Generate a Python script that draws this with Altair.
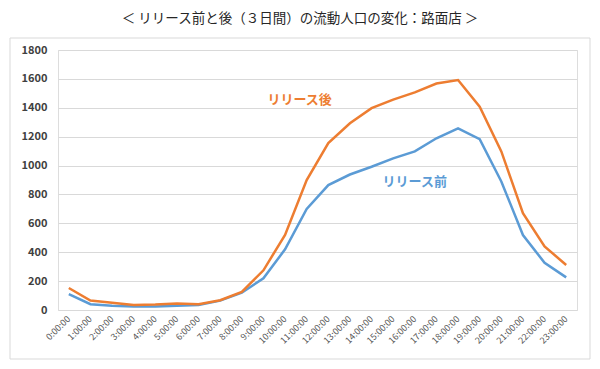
import altair as alt
import pandas as pd

hours = [f"{h}:00:00" for h in range(24)]
before = [110, 40, 30, 25, 25, 30, 35, 65, 120, 220, 420, 700, 865, 938, 992, 1050, 1098, 1189, 1257, 1183, 890, 519, 327, 226]
after = [152, 65, 50, 35, 38, 45, 40, 68, 125, 275, 520, 900, 1156, 1293, 1397, 1456, 1507, 1568, 1592, 1408, 1098, 670, 440, 312]
series_names = ["リリース前", "リリース後"]
colors = ["#5B9BD5", "#ED7D31"]
y_ticks = [0, 200, 400, 600, 800, 1000, 1200, 1400, 1600, 1800]

rows = []
for h, b, a in zip(hours, before, after):
    rows.append({"time": h, "value": b, "series": series_names[0]})
    rows.append({"time": h, "value": a, "series": series_names[1]})
df = pd.DataFrame(rows)

label_df = pd.DataFrame({
    "time": ["9:00:00", "14:00:00"],
    "value": [1454, 885],
    "series": ["リリース後", "リリース前"],
    "dx": [4, 11],
})

FONT = "Noto Sans CJK JP"

x_enc = alt.X("time:N", sort=hours, title=None,
              scale=alt.Scale(paddingInner=1, paddingOuter=0.5),
              axis=alt.Axis(labelAngle=-45, labelFontSize=9, labelColor="#595959",
                            labelFont=FONT, domain=False, ticks=False, grid=False,
                            labelAlign="right", labelBaseline="middle",
                            labelPadding=7, labelOverlap=False))
y_enc = alt.Y("value:Q", title=None,
              scale=alt.Scale(domain=[0, 1800]),
              axis=alt.Axis(values=y_ticks, format="d",
                            labelFontSize=11, labelOverlap=False,
                            labelFontWeight="bold", labelColor="#404040", labelFont=FONT,
                            domain=False, ticks=False, gridColor="#d9d9d9", labelPadding=11))
color_enc = alt.Color("series:N", scale=alt.Scale(domain=series_names, range=colors), legend=None)

frame = alt.Chart(pd.DataFrame({"a": [0]})).mark_rect(
    fill=None, stroke="#d9d9d9", strokeWidth=1
).encode(x=alt.value(-48), x2=alt.value(532), y=alt.value(-12), y2=alt.value(309))

title = alt.Chart(pd.DataFrame({"t": ["＜ リリース前と後（３日間）の流動人口の変化：路面店 ＞"]})).mark_text(
    font=FONT, fontSize=13.5, color="#262626", align="center", baseline="middle"
).encode(text="t:N", x=alt.value(242), y=alt.value(-31))

lines = alt.Chart(df).mark_line(strokeWidth=2.5).encode(
    x=x_enc, y=y_enc, color=color_enc, detail="series:N"
)

labels = alt.Chart(label_df).mark_text(
    font=FONT, fontSize=13, fontWeight="bold", align="left", baseline="middle"
).encode(
    x=x_enc,
    y=y_enc,
    text="series:N",
    color=color_enc,
    xOffset=alt.XOffset("dx:Q", scale=None),
)

chart = alt.layer(frame, lines, labels, title).properties(
    width=519, height=260,
    autosize=alt.AutoSizeParams(type="none"),
    padding={"left": 50, "top": 42, "right": 15, "bottom": 55},
).configure_view(stroke=None).configure(background="white")

chart.save("out.html", embed_options={"renderer": "svg", "actions": False})
